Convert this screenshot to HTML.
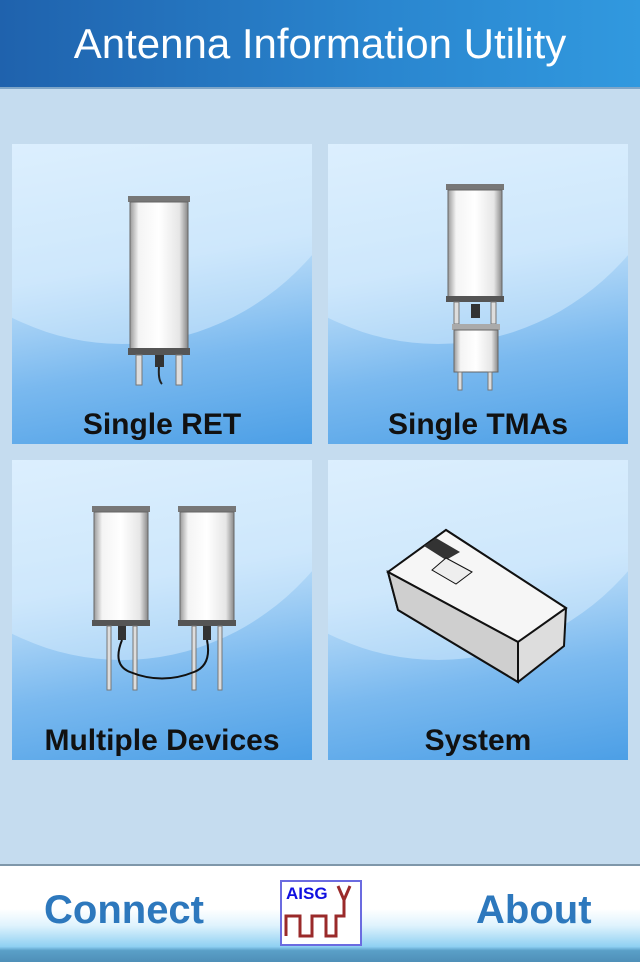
<!DOCTYPE html>
<html><head><meta charset="utf-8"><style>
body{margin:0;width:640px;height:960px;overflow:hidden;background:#c5dcef;font-family:"Liberation Sans",sans-serif;position:relative}
.hdr{position:absolute;left:0;top:0;width:640px;height:87px;background:linear-gradient(90deg,#1f62ad,#2a86cf 60%,#3199df);border-bottom:2px solid #7fa6c8;color:#fff;font-size:42px;text-align:center;line-height:88px}
.tile{position:absolute;width:300px;height:300px;overflow:hidden;background:linear-gradient(170deg,#d9edfd 0%,#bfdff9 40%,#7ab9ef 70%,#4c9fe6 100%)}
.tile .sw{position:absolute;left:-150px;top:-360px;width:520px;height:560px;border-radius:50%;background:rgba(225,242,255,.45)}
.tile .lbl{position:absolute;left:0;right:0;bottom:2px;text-align:center;font-weight:bold;font-size:30px;color:#111}
.tile svg{position:absolute;left:0;top:0}
.ftr{position:absolute;left:0;top:864px;width:640px;height:96px;border-top:2px solid #7f97aa;background:linear-gradient(#fff 0%,#fff 45%,#dff3fd 62%,#8fd0f2 84%,#5aa0c8 88%,#4f8fb8 100%)}
.fb{position:absolute;top:22px;font-size:40px;font-weight:bold;color:#2d78bd}
</style></head><body>
<div class="hdr">Antenna Information Utility</div>

<svg width="0" height="0" style="position:absolute"><defs>
<linearGradient id="ant" x1="0" x2="1"><stop offset="0" stop-color="#9a9a9a"/><stop offset=".15" stop-color="#f4f4f4"/><stop offset=".5" stop-color="#fff"/><stop offset=".85" stop-color="#e6e6e6"/><stop offset="1" stop-color="#888"/></linearGradient>
</defs></svg>

<div class="tile" style="left:12px;top:144px"><div class="sw"></div>
<svg width="300" height="300">
<rect x="116" y="52" width="62" height="6" fill="#777"/>
<rect x="118" y="58" width="58" height="148" fill="url(#ant)" stroke="#666"/>
<rect x="116" y="204" width="62" height="7" fill="#555"/>
<rect x="124" y="211" width="6" height="30" fill="#ddd" stroke="#777"/>
<rect x="164" y="211" width="6" height="30" fill="#ddd" stroke="#777"/>
<rect x="143" y="211" width="9" height="12" fill="#333"/>
<path d="M147 223 Q146 236 150 240" stroke="#222" stroke-width="2" fill="none"/>
</svg><div class="lbl">Single RET</div></div>

<div class="tile" style="left:328px;top:144px"><div class="sw"></div>
<svg width="300" height="300">
<rect x="118" y="40" width="58" height="6" fill="#777"/>
<rect x="120" y="46" width="54" height="108" fill="url(#ant)" stroke="#666"/>
<rect x="118" y="152" width="58" height="6" fill="#555"/>
<rect x="126" y="158" width="5" height="22" fill="#ddd" stroke="#777"/>
<rect x="163" y="158" width="5" height="22" fill="#ddd" stroke="#777"/>
<rect x="143" y="160" width="9" height="14" fill="#333"/>
<rect x="124" y="180" width="48" height="6" fill="#aaa"/>
<rect x="126" y="186" width="44" height="42" fill="url(#ant)" stroke="#666"/>
<rect x="130" y="228" width="4" height="18" fill="#ddd" stroke="#777"/>
<rect x="160" y="228" width="4" height="18" fill="#ddd" stroke="#777"/>
</svg><div class="lbl">Single TMAs</div></div>

<div class="tile" style="left:12px;top:460px"><div class="sw"></div>
<svg width="300" height="300">
<rect x="80" y="46" width="58" height="6" fill="#777"/>
<rect x="82" y="52" width="54" height="110" fill="url(#ant)" stroke="#666"/>
<rect x="80" y="160" width="58" height="6" fill="#555"/>
<rect x="95" y="166" width="4" height="64" fill="#ddd" stroke="#777"/>
<rect x="121" y="166" width="4" height="64" fill="#ddd" stroke="#777"/>
<rect x="106" y="166" width="8" height="14" fill="#333"/>
<rect x="166" y="46" width="58" height="6" fill="#777"/>
<rect x="168" y="52" width="54" height="110" fill="url(#ant)" stroke="#666"/>
<rect x="166" y="160" width="58" height="6" fill="#555"/>
<rect x="180" y="166" width="4" height="64" fill="#ddd" stroke="#777"/>
<rect x="206" y="166" width="4" height="64" fill="#ddd" stroke="#777"/>
<rect x="191" y="166" width="8" height="14" fill="#333"/>
<path d="M110 180 Q100 205 118 212 Q150 225 182 212 Q200 205 195 180" stroke="#111" stroke-width="2" fill="none"/>
</svg><div class="lbl">Multiple Devices</div></div>

<div class="tile" style="left:328px;top:460px"><div class="sw"></div>
<svg width="300" height="300">
<path d="M60 112 L118 70 L238 148 L236 186 L190 222 L70 150 Z" fill="#ddd" stroke="#111" stroke-width="2"/>
<path d="M60 112 L118 70 L238 148 L190 182 Z" fill="#f6f6f6" stroke="#111" stroke-width="2"/>
<path d="M70 150 L190 222 L190 182 L60 112 Z" fill="#cfcfcf" stroke="#111" stroke-width="2"/>
<path d="M108 78 L132 92 L118 100 L96 86 Z" fill="#333"/>
<path d="M118 98 L144 112 L128 124 L104 110 Z" fill="#eee" stroke="#111"/>
</svg><div class="lbl">System</div></div>

<div class="ftr">
<div class="fb" style="left:44px">Connect</div>
<div style="position:absolute;left:280px;top:14px;width:78px;height:62px;border:2px solid #6b6be0;background:#fff">
<div style="position:absolute;left:4px;top:2px;font-weight:bold;font-size:17px;color:#1010e0">AISG</div>
<svg width="78" height="62" style="position:absolute;left:0;top:0"><path d="M4 54 L4 34 L18 34 L18 54 L30 54 L30 34 L44 34 L44 54 L54 54 L54 34 L62 34 L62 18 M56 4 L62 18 L68 4" stroke="#9a2a2a" stroke-width="3" fill="none"/></svg>
</div>
<div class="fb" style="left:476px">About</div>
</div>
</body></html>
